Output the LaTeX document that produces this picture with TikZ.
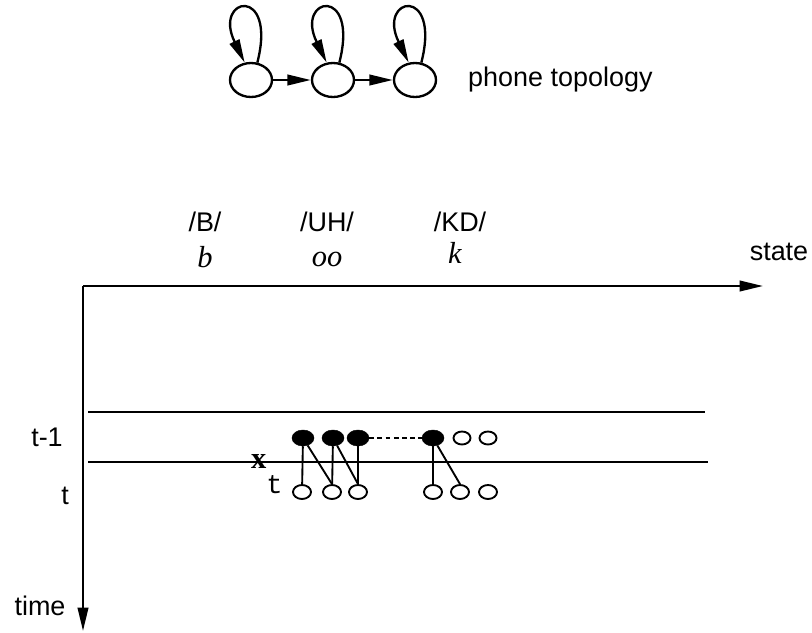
\documentclass[tikz,border=0pt]{standalone}
\usepackage{fontspec}
\setmainfont{Liberation Sans}
\setmonofont{Liberation Mono}
\newfontfamily\serifrm{Liberation Serif}
\usetikzlibrary{arrows.meta, shapes.geometric}

\tikzset{
  lab/.style={font=\fontsize{23}{27}\selectfont, inner sep=0pt},
  itlab/.style={font=\fontsize{26}{30}\selectfont\serifrm\itshape, inner sep=0pt},
  bigtip/.style={-{Triangle[length=20pt,width=9pt]}},
  phonestate/.style={draw, ellipse, line width=2pt, inner sep=0pt,
    minimum width=1.26cm, minimum height=1.02cm},
  fullstate/.style={draw, fill=black, ellipse, inner sep=0pt,
    minimum width=0.66cm, minimum height=0.48cm},
  topstate/.style={draw, ellipse, line width=1.6pt, inner sep=0pt,
    minimum width=0.51cm, minimum height=0.39cm},
  lowstate/.style={draw, ellipse, line width=1.6pt, inner sep=0pt,
    minimum width=0.54cm, minimum height=0.42cm}
}

\begin{document}
\begin{tikzpicture}[x=0.03cm, y=-0.03cm]
\useasboundingbox (0,0) rectangle (812,632);

% phone topology
\node[phonestate] (c1) at (251,80) {};
\node[phonestate] (c2) at (333,80) {};
\node[phonestate] (c3) at (415,80) {};
\draw[bigtip, line width=2pt] (c1) -- (c2);
\draw[bigtip, line width=2pt] (c2) -- (c3);
\foreach \c in {c1,c2,c3}
  \draw[bigtip, line width=2pt] (\c.70) .. controls +(20,-78) and +(-32,-66) .. (\c.110);
\node[lab, anchor=west] (topo) at (468,80) {phone topology};

% axes
\coordinate (o) at (83,286);
\coordinate (se) at (763,286);
\coordinate (te) at (83,631);
\draw[bigtip, line width=2pt] (o) -- (se);
\draw[bigtip, line width=2pt] (o) -- (te);
\node[lab] (state) at (779,252) {state};
\node[lab] (time) at (40,606) {time};

\node[lab] (pb) at (205,222) {/B/};
\node[lab] (puh) at (327,222) {/UH/};
\node[lab] (pkd) at (460,222) {/KD/};
\node[itlab] (lb) at (205,257) {b};
\node[itlab] (loo) at (327,259) {oo};
\node[itlab] (lk) at (455,253) {k};

% time slices
\coordinate (ra) at (88,412);
\coordinate (rb) at (705,412);
\coordinate (sa) at (88,462);
\coordinate (sb) at (708,462);
\draw[line width=2pt] (ra) -- (rb);
\draw[line width=2pt] (sa) -- (sb);
\node[lab] (tprev) at (47,437) {t-1};
\node[lab] (tnow) at (65,496) {t};

% states at t-1 and t
\node[fullstate] (f1) at (303,438) {};
\node[fullstate] (f2) at (333,438) {};
\node[fullstate] (f3) at (358,438) {};
\node[fullstate] (f4) at (433,438) {};
\node[topstate] (e1) at (462,438) {};
\node[topstate] (e2) at (488,438) {};
\node[lowstate] (b1) at (302,492) {};
\node[lowstate] (b2) at (332,492) {};
\node[lowstate] (b3) at (358,492) {};
\node[lowstate] (b4) at (433,492) {};
\node[lowstate] (b5) at (460,492) {};
\node[lowstate] (b6) at (488,492) {};

\draw[line width=1.6pt, dash pattern=on 4pt off 3pt] (f3) -- (f4);
\draw[line width=1.6pt] (f1) -- (b1);
\draw[line width=1.6pt] (f1) -- (b2.north);
\draw[line width=1.6pt] (f2) -- (b2);
\draw[line width=1.6pt] (f2) -- (b3.north);
\draw[line width=1.6pt] (f3) -- (b3);
\draw[line width=1.6pt] (f4) -- (b4);
\draw[line width=1.6pt] (f4) -- (b5.north);

\node[lab, anchor=base west] (xt) at (251,468)
  {{\fontsize{26}{30}\selectfont\serifrm\bfseries x}\raisebox{-0.95em}{\ttfamily t}};

\end{tikzpicture}
\end{document}
